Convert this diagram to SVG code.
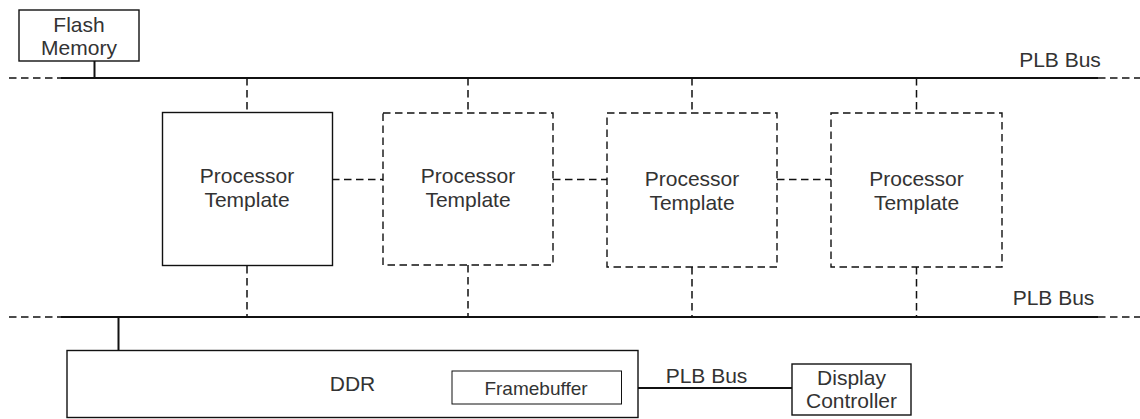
<svg xmlns="http://www.w3.org/2000/svg" width="1140" height="419" viewBox="0 0 1140 419">
<style>
text{font-family:"Liberation Sans",Arial,sans-serif;font-size:21px;fill:#333;text-anchor:middle}
.fb{font-size:19px}
.box{fill:#fff;stroke:#111;stroke-width:1.4}
.dbox{fill:#fff;stroke:#111;stroke-width:1.4;stroke-dasharray:7.5 4.5}
.bus{stroke:#111;stroke-width:2;fill:none}
.dash{stroke:#111;stroke-width:1.5;stroke-dasharray:7.5 4.5;fill:none}
.link{stroke:#111;stroke-width:2;fill:none}
</style>
<g id="connectors">
<line class="dash" x1="9" y1="78" x2="61" y2="78"/>
<line class="bus" x1="61" y1="78" x2="1098" y2="78"/>
<line class="dash" x1="1098" y1="78" x2="1140" y2="78"/>
<line class="dash" x1="9" y1="317" x2="61" y2="317"/>
<line class="bus" x1="61" y1="317" x2="1098" y2="317"/>
<line class="dash" x1="1098" y1="317" x2="1140" y2="317"/>
<line class="link" x1="94.5" y1="61" x2="94.5" y2="78"/>
<line class="link" x1="118.5" y1="317" x2="118.5" y2="350"/>
<line class="dash" x1="247" y1="78" x2="247" y2="112"/>
<line class="dash" x1="468" y1="78" x2="468" y2="113"/>
<line class="dash" x1="692" y1="78" x2="692" y2="113"/>
<line class="dash" x1="916.5" y1="78" x2="916.5" y2="113"/>
<line class="dash" x1="247" y1="266" x2="247" y2="317"/>
<line class="dash" x1="468" y1="265" x2="468" y2="317"/>
<line class="dash" x1="692" y1="267" x2="692" y2="317"/>
<line class="dash" x1="916.5" y1="267" x2="916.5" y2="317"/>
<line class="dash" x1="332" y1="179.5" x2="383" y2="179.5"/>
<line class="dash" x1="553" y1="179.5" x2="607" y2="179.5"/>
<line class="dash" x1="777" y1="179.5" x2="831" y2="179.5"/>
<line class="link" x1="621.5" y1="388" x2="792" y2="388"/>
<text x="1060" y="67">PLB Bus</text>
<text x="1053.5" y="305">PLB Bus</text>
<text x="706.5" y="383">PLB Bus</text>
</g>
<g id="flash">
<rect class="box" x="19" y="10" width="120" height="51"/>
<text x="79" y="32">Flash</text>
<text x="79" y="55">Memory</text>
</g>
<g id="proc1">
<rect class="box" x="162.5" y="112.5" width="170" height="153"/>
<text x="247" y="183">Processor</text>
<text x="247" y="207">Template</text>
</g>
<g id="proc2">
<rect class="dbox" x="383" y="113" width="170" height="152"/>
<text x="468" y="183">Processor</text>
<text x="468" y="207">Template</text>
</g>
<g id="proc3">
<rect class="dbox" x="607" y="113" width="170" height="154"/>
<text x="692" y="186">Processor</text>
<text x="692" y="210">Template</text>
</g>
<g id="proc4">
<rect class="dbox" x="831" y="113" width="171" height="154"/>
<text x="916.5" y="186">Processor</text>
<text x="916.5" y="210">Template</text>
</g>
<g id="ddr">
<rect class="box" x="67" y="350.5" width="571" height="67"/>
<text x="352.5" y="391">DDR</text>
</g>
<g id="framebuffer">
<rect class="box" x="452" y="371" width="169.5" height="33" style="stroke-width:1"/>
<text class="fb" x="536" y="394.5">Framebuffer</text>
</g>
<g id="display">
<rect class="box" x="792" y="364" width="119" height="51"/>
<text x="851.5" y="385">Display</text>
<text x="851.5" y="408">Controller</text>
</g>
</svg>
